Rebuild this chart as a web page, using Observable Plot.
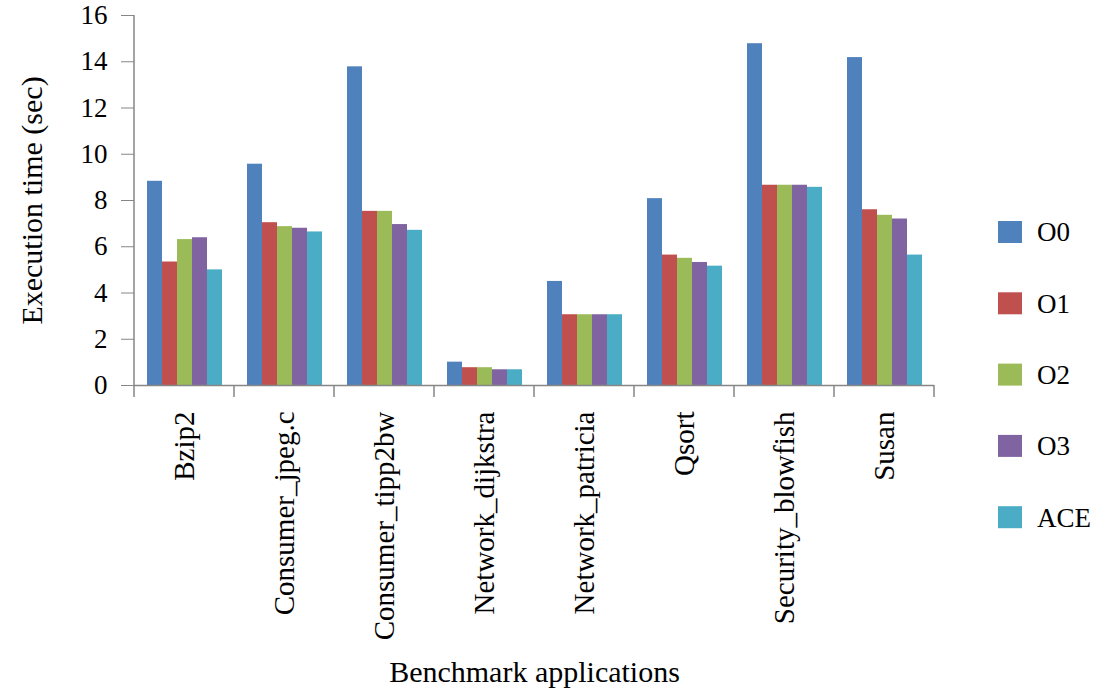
<!DOCTYPE html>
<html>
<head>
<meta charset="utf-8">
<script src="https://cdn.jsdelivr.net/npm/d3@7"></script>
<script src="https://cdn.jsdelivr.net/npm/@observablehq/plot@0.6"></script>
<style>
  html, body { margin: 0; padding: 0; background: #fff; }
  #chart { width: 1099px; height: 693px; }
</style>
</head>
<body>
<div id="chart"></div>
<script>
const apps = ["Bzip2", "Consumer_jpeg.c", "Consumer_tipp2bw", "Network_dijkstra", "Network_patricia", "Qsort", "Security_blowfish", "Susan"];
const seriesNames = ["O0", "O1", "O2", "O3", "ACE"];
const seriesColors = ["#4F81BD", "#C0504D", "#9BBB59", "#8064A2", "#4BACC6"];
const O0  = [8.83, 9.57, 13.78, 1.01, 4.50, 8.08, 14.78, 14.18];
const O1  = [5.34, 7.04, 7.53, 0.77, 3.06, 5.64, 8.66, 7.60];
const O2  = [6.31, 6.87, 7.53, 0.77, 3.06, 5.50, 8.66, 7.36];
const O3  = [6.39, 6.80, 6.96, 0.68, 3.06, 5.32, 8.66, 7.20];
const ACE = [5.00, 6.64, 6.71, 0.68, 3.06, 5.16, 8.57, 5.64];
const yTicks = [0, 2, 4, 6, 8, 10, 12, 14, 16];

const seriesValues = [O0, O1, O2, O3, ACE];
const data = [];
apps.forEach((app, i) => {
  seriesNames.forEach((s, j) => data.push({app, series: s, value: seriesValues[j][i]}));
});

const axisColor = "#868686";
const font = "'Liberation Serif', 'DejaVu Serif', serif";

const plot = Plot.plot({
  width: 1099,
  height: 693,
  marginLeft: 131,
  marginRight: 162,
  marginTop: 15,
  marginBottom: 308,
  style: {fontFamily: font, fontSize: "27px", color: "#000", background: "#fff"},
  fx: {domain: apps, padding: 0},
  x: {domain: seriesNames, paddingInner: 0, paddingOuter: 0.75, axis: null},
  y: {domain: [0, 16]},
  color: {domain: seriesNames, range: seriesColors},
  marks: [
    Plot.barY(data, {fx: "app", x: "series", y: "value", fill: "series"}),
    Plot.ruleY([0], {stroke: axisColor, strokeWidth: 1.5}),
    Plot.axisY({
      ticks: yTicks,
      tickSize: 13,
      tickPadding: 14,
      stroke: axisColor,
      fontSize: 27,
      label: null
    }),
    Plot.axisY({
      ticks: [],
      tickSize: 0,
      fontSize: 30,
      label: "Execution time (sec)",
      labelAnchor: "center",
      labelOffset: 114,
      labelArrow: "none"
    }),
    Plot.axisFx({
      anchor: "bottom",
      tickRotate: -90,
      tickSize: 0,
      tickPadding: 26,
      fontSize: 29,
      label: null
    }),
    Plot.axisFx({
      anchor: "bottom",
      ticks: [],
      tickSize: 0,
      fontSize: 30,
      dx: 12,
      label: "Benchmark applications",
      labelAnchor: "center",
      labelOffset: 296
    })
  ]
});

document.getElementById("chart").appendChild(plot);

// Axis lines and group-boundary tick marks from Plot's own scales
const svg = d3.select(plot);
const fx = plot.scale("fx");
const yS = plot.scale("y");
const y0 = yS.apply(0), y16 = yS.apply(16);
const x0 = fx.apply(apps[0]);
const bounds = apps.map(a => fx.apply(a)).concat([fx.apply(apps[apps.length - 1]) + fx.bandwidth]);
const g = svg.append("g").attr("stroke", axisColor).attr("stroke-width", 1.5);
g.append("line").attr("x1", x0).attr("x2", x0).attr("y1", y16).attr("y2", y0);
bounds.forEach(b => g.append("line").attr("x1", b).attr("x2", b).attr("y1", y0).attr("y2", y0 + 12));

// Legend
const colorS = plot.scale("color");
const lg = svg.append("g").attr("font-family", font).attr("font-size", 27).attr("fill", "#000").attr("text-anchor", "start");
seriesNames.forEach((s, i) => {
  const cy = 232 + i * 71.3;
  lg.append("rect").attr("x", 998).attr("y", cy - 11).attr("width", 24).attr("height", 22).attr("fill", colorS.apply(s));
  lg.append("text").attr("x", 1037).attr("y", cy).attr("dy", "0.35em").text(s);
});
</script>
</body>
</html>
